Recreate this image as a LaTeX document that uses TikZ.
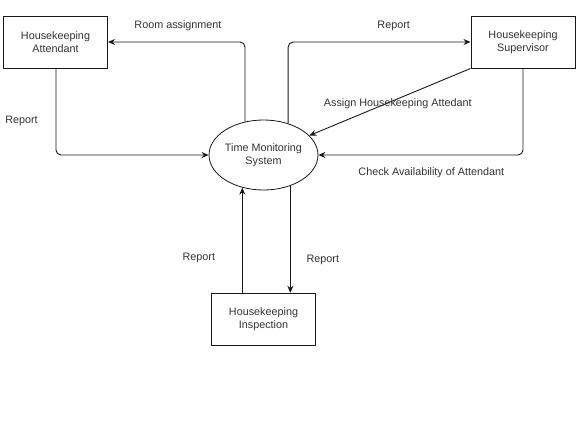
\documentclass[tikz,border=0pt]{standalone}
\usepackage{fontspec}
\setmainfont{Liberation Sans}
\usetikzlibrary{shapes.geometric,arrows.meta}
\definecolor{txt}{gray}{0.2}
\definecolor{ln}{gray}{0.1}
\begin{document}
\begin{tikzpicture}[x=1pt,y=-1pt,
  every node/.style={font=\fontsize{10.8}{12.5}\selectfont, text=txt},
  box/.style={draw=ln, line width=1pt, minimum width=104pt, minimum height=52pt, align=center, inner sep=0pt},
  proc/.style={draw=ln, line width=0.8pt, ellipse, minimum width=103pt, minimum height=70pt, align=center, inner sep=0pt},
  flow/.style={draw=ln, line width=0.9pt, rounded corners=5pt, -{Stealth[length=7pt,width=6pt]}},
  lbl/.style={inner sep=0pt}]
\useasboundingbox (0,0) rectangle (584,426);
\fill[white] (0,0) rectangle (584,426);
\node[box] (att) at (55.5,42) {Housekeeping\\Attendant};
\node[box] (sup) at (523,42) {Housekeeping\\Supervisor};
\node[box] (insp) at (263.5,319.3) {Housekeeping\\Inspection};
\node[proc] (tms) at (263.5,155) {Time Monitoring\\System};
\coordinate (xa) at (56,0);
\coordinate (xs) at (523,0);
% connectors
\draw[flow] (tms.119.5) |- (att);
\draw[flow] (att.south -| xa) |- (tms);
\draw[flow] (tms.52.9) |- (sup);
\draw[flow] (sup.south west) -- (tms.23.1);
\draw[flow] (sup.south -| xs) |- (tms);
\draw[flow] (insp.north -| tms.237.9) -- (tms.237.9);
\draw[flow] (tms.311.4) -- (insp.north -| tms.311.4);
% labels
\node[lbl] (l1) at (178,25.5) {Room assignment};
\node[lbl] (l2) at (21.5,121) {Report};
\node[lbl] (l3) at (393.7,25.5) {Report};
\node[lbl] (l4) at (397.8,104.2) {Assign Housekeeping Attedant};
\node[lbl] (l5) at (431.3,173.2) {Check Availability of Attendant};
\node[lbl] (l6) at (198.8,258) {Report};
\node[lbl] (l7) at (322.8,259.7) {Report};
\end{tikzpicture}
\end{document}
